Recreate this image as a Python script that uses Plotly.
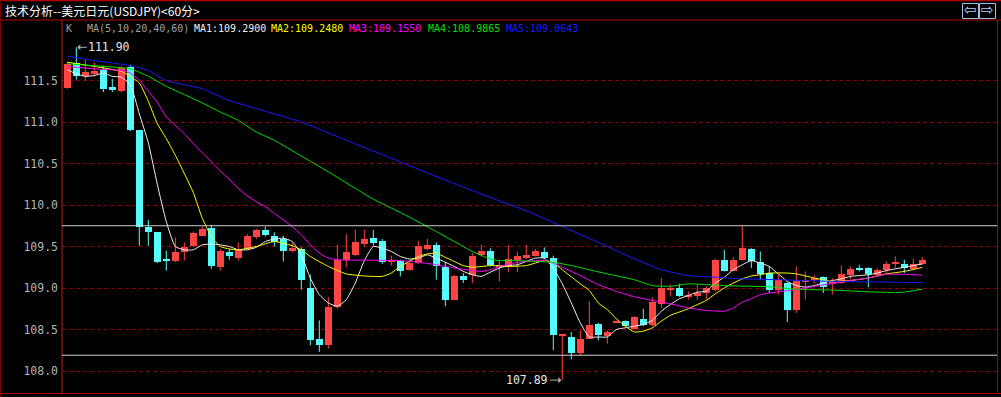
import plotly.graph_objects as go

# ---------------- data ----------------
bars = list(range(1, 97))
opens = [111.41, 111.71, 111.55, 111.58, 111.63, 111.42, 111.37, 111.66, 110.90, 109.74,
         109.67, 109.34, 109.33, 109.43, 109.51, 109.63, 109.72, 109.25, 109.43, 109.36,
         109.47, 109.62, 109.70, 109.63, 109.59, 109.45, 109.47, 109.00, 108.38, 108.31,
         108.77, 109.34, 109.40, 109.53, 109.60, 109.57, 109.32, 109.32, 109.22, 109.30,
         109.47, 109.52, 109.25, 108.86, 109.14, 109.16, 109.40, 109.44, 109.26, 109.26,
         109.34, 109.36, 109.39, 109.43, 109.36, 108.43, 108.41, 108.22, 108.38, 108.57,
         108.42, 108.59, 108.60, 108.51, 108.63, 108.55, 108.81, 108.97, 109.00, 108.90,
         108.90, 108.94, 108.97, 109.34, 109.21, 109.34, 109.47, 109.31, 109.18, 108.97,
         109.06, 108.74, 109.08, 109.10, 109.13, 109.06, 109.06, 109.16, 109.24, 109.24,
         109.16, 109.22, 109.30, 109.29, 109.23, 109.29]
highs = [111.72, 111.90, 111.75, 111.72, 111.68, 111.52, 111.67, 111.69, 110.90, 109.82,
         109.67, 109.45, 109.61, 109.55, 109.68, 109.74, 109.76, 109.47, 109.47, 109.55,
         109.65, 109.71, 109.74, 109.67, 109.63, 109.55, 109.49, 109.16, 108.61, 108.89,
         109.52, 109.65, 109.70, 109.70, 109.70, 109.59, 109.39, 109.34, 109.34, 109.57,
         109.59, 109.55, 109.31, 109.16, 109.18, 109.42, 109.52, 109.48, 109.33, 109.52,
         109.44, 109.52, 109.47, 109.49, 109.39, 108.45, 108.47, 108.49, 108.84, 108.58,
         108.49, 108.61, 108.61, 108.66, 108.75, 108.89, 109.12, 109.04, 109.05, 108.96,
         109.04, 109.02, 109.35, 109.46, 109.37, 109.75, 109.48, 109.44, 109.26, 109.16,
         109.07, 109.26, 109.20, 109.16, 109.14, 109.12, 109.27, 109.26, 109.28, 109.25,
         109.24, 109.32, 109.38, 109.34, 109.35, 109.37]
lows = [111.40, 111.51, 111.50, 111.55, 111.36, 111.36, 111.36, 110.89, 109.51, 109.51,
        109.30, 109.21, 109.31, 109.33, 109.49, 109.63, 109.23, 109.21, 109.34, 109.33,
        109.47, 109.59, 109.62, 109.50, 109.32, 109.43, 108.98, 108.31, 108.23, 108.27,
        108.75, 109.25, 109.38, 109.50, 109.51, 109.29, 109.27, 109.14, 109.21, 109.29,
        109.45, 109.10, 108.78, 108.86, 109.06, 109.06, 109.38, 109.26, 109.08, 109.19,
        109.19, 109.35, 109.38, 109.35, 108.25, 107.89, 108.14, 108.19, 108.38, 108.37,
        108.33, 108.58, 108.53, 108.50, 108.54, 108.54, 108.76, 108.90, 108.89, 108.86,
        108.86, 108.86, 108.96, 109.20, 109.20, 109.33, 109.24, 109.10, 108.94, 108.92,
        108.59, 108.70, 108.86, 109.06, 108.94, 108.92, 109.05, 109.10, 109.20, 109.01,
        109.15, 109.18, 109.24, 109.18, 109.22, 109.28]
closes = [111.70, 111.55, 111.60, 111.62, 111.40, 111.39, 111.65, 110.90, 109.74, 109.67,
          109.31, 109.33, 109.43, 109.50, 109.66, 109.71, 109.27, 109.45, 109.38, 109.47,
          109.63, 109.70, 109.64, 109.55, 109.45, 109.48, 109.10, 108.37, 108.31, 108.77,
          109.34, 109.43, 109.56, 109.59, 109.54, 109.31, 109.34, 109.21, 109.30, 109.51,
          109.52, 109.27, 108.86, 109.14, 109.10, 109.39, 109.45, 109.28, 109.28, 109.35,
          109.39, 109.40, 109.45, 109.36, 108.43, 108.44, 108.22, 108.38, 108.55, 108.43,
          108.47, 108.60, 108.54, 108.65, 108.55, 108.83, 109.00, 109.00, 108.90, 108.92,
          108.94, 109.00, 109.34, 109.21, 109.34, 109.48, 109.33, 109.17, 108.98, 109.10,
          108.73, 109.08, 109.10, 109.12, 109.01, 109.08, 109.17, 109.23, 109.22, 109.17,
          109.22, 109.29, 109.31, 109.24, 109.29, 109.34]

# moving-average lines (bar index, value)
ma1_bars = list(range(1, 97))
ma1_vals = [111.63, 111.58, 111.55, 111.56, 111.59, 111.55, 111.54, 111.45, 111.10, 110.75,
            110.25, 109.80, 109.50, 109.46, 109.46, 109.52, 109.53, 109.52, 109.50, 109.46,
            109.46, 109.49, 109.56, 109.59, 109.60, 109.56, 109.40, 109.12, 108.92, 108.82,
            108.78, 108.86, 109.06, 109.33, 109.50, 109.48, 109.44, 109.38, 109.35, 109.36,
            109.40, 109.36, 109.31, 109.26, 109.20, 109.16, 109.14, 109.19, 109.24, 109.27,
            109.28, 109.32, 109.36, 109.36, 109.24, 109.05, 108.82, 108.58, 108.41, 108.41,
            108.41, 108.50, 108.52, 108.54, 108.56, 108.61, 108.72, 108.80, 108.87, 108.91,
            108.95, 108.96, 109.06, 109.13, 109.22, 109.28, 109.33, 109.30, 109.26, 109.17,
            109.08, 109.03, 109.01, 109.03, 109.06, 109.09, 109.11, 109.14, 109.15, 109.16,
            109.18, 109.21, 109.23, 109.25, 109.27, 109.29]
ma2_bars = [1, 4, 7, 8, 9, 10, 11, 12, 13, 14, 15, 16, 17, 18, 19, 20, 22, 24, 26, 27,
            28, 30, 32, 34, 36, 37, 38, 39, 40, 41, 42, 43, 44, 45, 46, 48, 50, 52, 54, 55,
            56, 58, 59, 60, 61, 62, 63, 64, 65, 66, 67, 68, 69, 70, 71, 72, 73, 74, 75, 76,
            77, 78, 79, 81, 82, 84, 86, 88, 90, 92, 94, 96]
ma2_vals = [111.72, 111.67, 111.61, 111.55, 111.47, 111.25, 110.98, 110.80, 110.60, 110.38,
            110.15, 109.84, 109.62, 109.50, 109.47, 109.46, 109.50, 109.56, 109.51, 109.46,
            109.38, 109.26, 109.17, 109.145, 109.14, 109.18, 109.26, 109.32, 109.38, 109.41,
            109.42, 109.37, 109.32, 109.27, 109.25, 109.27, 109.26, 109.27, 109.33, 109.31,
            109.22, 109.05, 108.97, 108.82, 108.74, 108.63, 108.54, 108.47, 108.48, 108.52,
            108.60, 108.67, 108.71, 108.75, 108.80, 108.85, 108.93, 109.00, 109.06, 109.11,
            109.145, 109.16, 109.18, 109.18, 109.17, 109.12, 109.08, 109.09, 109.12, 109.17,
            109.20, 109.248]
ma3_bars = [1, 4, 7, 8, 9, 10, 11, 12, 13, 14, 15, 16, 17, 18, 19, 20, 21, 22, 23, 24,
            25, 26, 27, 28, 29, 30, 31, 35, 38, 40, 42, 44, 46, 47, 48, 49, 51, 53, 54, 55,
            56, 58, 60, 62, 64, 66, 68, 70, 72, 74, 75, 76, 77, 78, 80, 82, 84, 86, 88, 90,
            92, 94, 96]
ma3_vals = [111.67, 111.64, 111.62, 111.59, 111.50, 111.37, 111.24, 111.06, 110.96, 110.86,
            110.74, 110.63, 110.52, 110.41, 110.31, 110.20, 110.11, 110.04, 109.98, 109.90,
            109.82, 109.74, 109.64, 109.52, 109.42, 109.36, 109.34, 109.335, 109.33, 109.31,
            109.28, 109.24, 109.21, 109.20, 109.22, 109.26, 109.31, 109.33, 109.335, 109.30,
            109.25, 109.15, 109.04, 108.96, 108.895, 108.85, 108.81, 108.76, 108.73, 108.72,
            108.76, 108.83, 108.87, 108.92, 108.955, 108.98, 109.02, 109.055, 109.09, 109.12,
            109.165, 109.165, 109.155]
ma4_bars = [1, 5, 8, 10, 12, 14, 16, 18, 20, 22, 24, 27, 30, 33, 35, 38, 41, 44, 46, 48,
            49, 51, 53, 55, 57, 59, 61, 64, 66, 68, 70, 72, 75, 79, 82, 86, 90, 93, 94, 96]
ma4_vals = [111.70, 111.67, 111.64, 111.55, 111.43, 111.33, 111.23, 111.12, 111.02, 110.88,
            110.78, 110.59, 110.40, 110.20, 110.07, 109.91, 109.74, 109.56, 109.44, 109.35,
            109.33, 109.33, 109.32, 109.31, 109.27, 109.22, 109.17, 109.10, 109.03, 109.02,
            109.05, 109.04, 109.025, 109.015, 108.985, 108.975, 108.955, 108.945, 108.95, 108.987]
ma5_bars = [1, 4, 8, 10, 12, 16, 19, 23, 27, 32, 38, 43, 49, 52, 56, 60, 63, 67, 70, 73,
            76, 80, 84, 88, 92, 96]
ma5_vals = [111.795, 111.74, 111.68, 111.62, 111.50, 111.40, 111.26, 111.13, 111.00, 110.78,
            110.52, 110.30, 110.05, 109.93, 109.74, 109.55, 109.40, 109.22, 109.15, 109.13,
            109.11, 109.10, 109.085, 109.076, 109.072, 109.064]

ma_names = ["MA1", "MA2", "MA3", "MA4", "MA5"]
ma_last = ["109.2900", "109.2480", "109.1550", "108.9865", "109.0643"]
ma_periods = "5,10,20,40,60"
title_text = "技术分析--美元日元(USDJPY)<60分>"
ref_lines = [109.75, 108.19]
tick_vals = [108.0, 108.5, 109.0, 109.5, 110.0, 110.5, 111.0, 111.5]
high_mark = (2, 111.90)
low_mark = (56, 107.89)

# ---------------- styling ----------------
W, H = 1001, 397
ML, MR, MT, MB = 62, 4, 21, 4
PW, PH = W - ML - MR, H - MT - MB

UP = "#ff4444"
DOWN = "#54fcfc"
MA_COLORS = ["#f0f0f0", "#ffff00", "#ff00ff", "#00e000", "#1a1aff"]
FRAME = "#b00000"
MONO = "DejaVu Sans Mono"


def pxx(x):
    return (x - ML) / PW


def pxy(y):
    return (H - MB - y) / PH


fig = go.Figure()

# wicks
for color, is_up in ((UP, True), (DOWN, False)):
    wx, wy = [], []
    for b, o, h, l, c in zip(bars, opens, highs, lows, closes):
        if (c >= o) == is_up:
            wx += [b, b, None]
            wy += [l, h, None]
    fig.add_trace(go.Scatter(x=wx, y=wy, mode="lines", line=dict(color=color, width=1),
                             hoverinfo="skip", showlegend=False))

# bodies
MIN_BODY = 0.014
for color, is_up in ((UP, True), (DOWN, False)):
    bx, bb, bh = [], [], []
    for b, o, c in zip(bars, opens, closes):
        if (c >= o) == is_up:
            lo = min(o, c)
            hgt = max(abs(c - o), MIN_BODY)
            bx.append(b)
            bb.append(lo)
            bh.append(hgt)
    fig.add_trace(go.Bar(x=bx, y=bh, base=bb, width=0.76, marker=dict(color=color, line=dict(width=0)),
                         hoverinfo="skip", showlegend=False))

# MA lines
for xs, ys, col in ((ma1_bars, ma1_vals, MA_COLORS[0]), (ma2_bars, ma2_vals, MA_COLORS[1]),
                    (ma3_bars, ma3_vals, MA_COLORS[2]), (ma4_bars, ma4_vals, MA_COLORS[3]),
                    (ma5_bars, ma5_vals, MA_COLORS[4])):
    fig.add_trace(go.Scatter(x=xs, y=ys, mode="lines",
                             line=dict(color=col, width=1, shape="spline", smoothing=0.5),
                             hoverinfo="skip", showlegend=False))

# y range from pixel geometry: 111.5 at y=80.5, 83 px per unit
y_top = 111.5 + (80.5 - MT) / 83.0
y_bot = 111.5 - (H - MB - 80.5) / 83.0
x_left = 1 - (67.3 - ML) / 9.0
x_right = 1 + (W - MR - 67.3) / 9.0

shapes = []
# frame lines
shapes.append(dict(type="line", xref="paper", yref="paper", x0=pxx(0), x1=pxx(W), y0=pxy(0.5), y1=pxy(0.5),
                   line=dict(color=FRAME, width=1.5)))
shapes.append(dict(type="line", xref="paper", yref="paper", x0=pxx(0), x1=pxx(W), y0=pxy(20), y1=pxy(20),
                   line=dict(color=FRAME, width=1)))
shapes.append(dict(type="line", xref="paper", yref="paper", x0=pxx(0), x1=pxx(W), y0=pxy(393.5), y1=pxy(393.5),
                   line=dict(color=FRAME, width=1)))
shapes.append(dict(type="line", xref="paper", yref="paper", x0=pxx(62), x1=pxx(62), y0=pxy(20), y1=pxy(394),
                   line=dict(color="#c81818", width=1)))
shapes.append(dict(type="line", xref="paper", yref="paper", x0=pxx(997.5), x1=pxx(997.5), y0=pxy(20), y1=pxy(394),
                   line=dict(color=FRAME, width=1)))
shapes.append(dict(type="line", xref="paper", yref="paper", x0=pxx(0.5), x1=pxx(0.5), y0=pxy(0), y1=pxy(397),
                   line=dict(color="#700000", width=1)))
# reference lines
for v in ref_lines:
    shapes.append(dict(type="line", xref="paper", yref="y", x0=0, x1=1, y0=v, y1=v,
                       line=dict(color="#d0d0d0", width=1)))
# nav buttons
for x0 in (962.5, 979.5):
    shapes.append(dict(type="rect", xref="paper", yref="paper", x0=pxx(x0), x1=pxx(x0 + 16),
                       y0=pxy(18.5), y1=pxy(3.5), line=dict(color="#9cc0e8", width=1)))

annotations = []
annotations.append(dict(text=title_text, xref="paper", yref="paper", x=pxx(3), y=pxy(10.5),
                        xanchor="left", yanchor="middle", showarrow=False,
                        font=dict(family="Noto Sans CJK SC", size=12, color="#ffffff")))
for txt, cx in (("⇦", 970.5), ("⇨", 987.5)):
    annotations.append(dict(text=txt, xref="paper", yref="paper", x=pxx(cx), y=pxy(10.5),
                            xanchor="center", yanchor="middle", showarrow=False,
                            font=dict(family="DejaVu Sans", size=15, color="#b4d2f0")))
row_y = pxy(29)
annotations.append(dict(text="K", xref="paper", yref="paper", x=pxx(63.5), y=row_y, xanchor="left",
                        yanchor="middle", showarrow=False, font=dict(family=MONO, size=10, color="#a0a0a0")))
annotations.append(dict(text="MA(" + ma_periods + ")", xref="paper", yref="paper", x=pxx(84.5), y=row_y,
                        xanchor="left", yanchor="middle", showarrow=False,
                        font=dict(family=MONO, size=10, color="#a0a0a0")))
for name, val, col, x0 in zip(ma_names, ma_last, MA_COLORS, (191.5, 269, 347, 425.5, 503.5)):
    annotations.append(dict(text=name + ":" + val, xref="paper", yref="paper", x=pxx(x0), y=row_y,
                            xanchor="left", yanchor="middle", showarrow=False,
                            font=dict(family=MONO, size=10, color=col)))
# high / low markers
annotations.append(dict(text="%.2f" % high_mark[1], x=high_mark[0], y=high_mark[1], xref="x", yref="y",
                        showarrow=True, ax=33, ay=0, arrowhead=1, arrowsize=1, arrowwidth=1,
                        arrowcolor="#b0b0b0", standoff=1,
                        font=dict(family=MONO, size=11.5, color="#e8e8e8")))
annotations.append(dict(text="%.2f" % low_mark[1], x=low_mark[0], y=low_mark[1], xref="x", yref="y",
                        showarrow=True, ax=-35, ay=0, arrowhead=1, arrowsize=1, arrowwidth=1,
                        arrowcolor="#b0b0b0", standoff=1,
                        font=dict(family=MONO, size=11.5, color="#e8e8e8")))

fig.update_layout(
    width=W, height=H, autosize=False,
    margin=dict(l=ML, r=MR, t=MT, b=MB, pad=0),
    paper_bgcolor="#000000", plot_bgcolor="#000000",
    barmode="overlay", bargap=0,
    showlegend=False,
    shapes=shapes, annotations=annotations,
    xaxis=dict(range=[x_left, x_right], visible=False, showgrid=False, zeroline=False, fixedrange=True),
    yaxis=dict(range=[y_bot, y_top], tickvals=tick_vals, ticktext=["%.1f" % v for v in tick_vals],
               showgrid=True, gridcolor="#8a0000", griddash="4px,3px", gridwidth=1,
               zeroline=False, showline=False, ticks="", ticklabelstandoff=3,
               tickfont=dict(family=MONO, size=11.5, color="#b4b4b4"), fixedrange=True),
)

fig.write_html("out.html", config={"displayModeBar": False})
